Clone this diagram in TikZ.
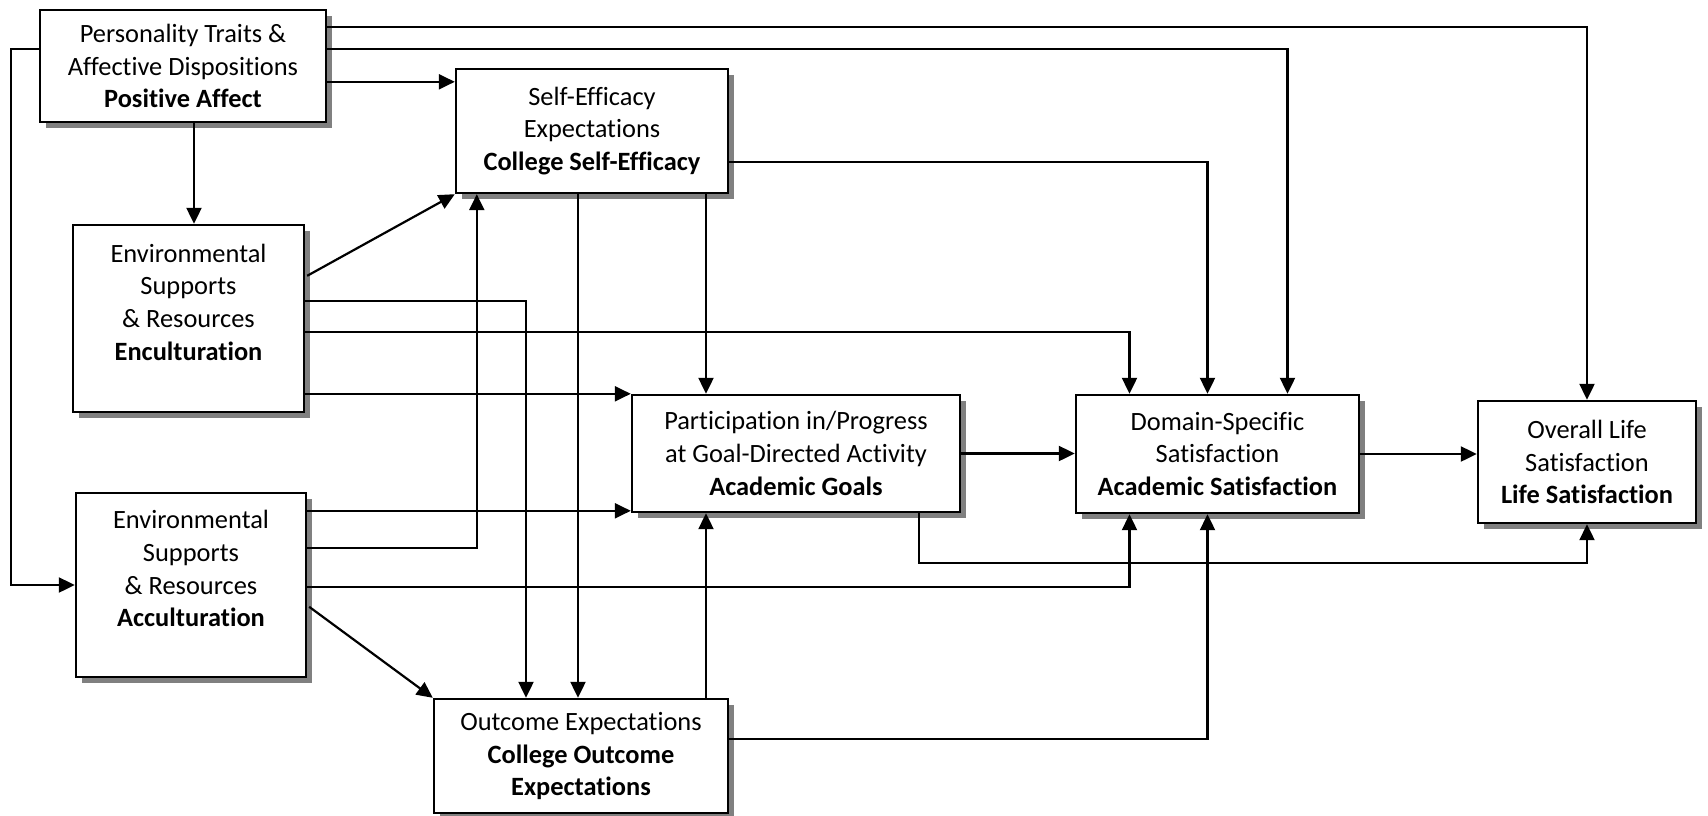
\documentclass[tikz,border=0pt]{standalone}
\usepackage{fontspec}
\setmainfont{Carlito}[Ligatures={NoCommon,NoRare},Contextuals=NoAlternate]
\usetikzlibrary{calc}
\usetikzlibrary{arrows.meta}
\usetikzlibrary{shadows}

\begin{document}
\begin{tikzpicture}[x=0.5pt,y=-0.5pt,
  box/.style={draw,line width=1.2pt,fill=white,align=center,inner sep=2pt,
    font=\fontsize{13.2}{16.4}\selectfont,
    drop shadow={shadow xshift=2.75pt,shadow yshift=-2.75pt,fill=black!50,opacity=1}},
  pot/.style={line width=1.1pt,-{Triangle[length=8pt,width=7.5pt]}}]
\useasboundingbox (0,0) rectangle (1708,815);
% boxes
\node[box,minimum width=143pt,minimum height=56pt] (pers) at (183,66)
  {Personality Traits \&\\Affective Dispositions\\\textbf{Positive Affect}};
\node[box,minimum width=136pt,minimum height=62pt] (selfeff) at (592,131)
  {Self-Efficacy\\Expectations\\\textbf{College Self-Efficacy}};
\node[box,minimum width=115.5pt,minimum height=93.5pt] (encult) at (188.5,318.5)
  {Environmental\\Supports\\\& Resources\\\textbf{Enculturation}\\\phantom{X}};
\node[box,minimum width=115pt,minimum height=92pt] (accult) at (191,585)
  {Environmental\\Supports\\\& Resources\\\textbf{Acculturation}\\\phantom{X}};
\node[box,minimum width=164pt,minimum height=58.5pt] (goals) at (796,453.5)
  {Participation in/Progress\\at Goal-Directed Activity\\\textbf{Academic Goals}};
\node[box,minimum width=141.5pt,minimum height=59pt] (domsat) at (1217.5,454)
  {Domain-Specific\\Satisfaction\\\textbf{Academic Satisfaction}};
\node[box,minimum width=109pt,minimum height=61pt] (lifesat) at (1587,462)
  {Overall Life\\Satisfaction\\\textbf{Life Satisfaction}};
\node[box,minimum width=147pt,minimum height=57pt] (outcome) at (581,756)
  {Outcome Expectations\\\textbf{College Outcome}\\\textbf{Expectations}};
% paths from personality
\draw[pot] ($(pers.north east)+(0,18)$) -| (lifesat.north);
\draw[pot] ($(pers.north east)+(0,40)$) -| ($(domsat.north)+(70,0)$);
\draw[pot] ($(pers.north east)+(0,73)$) coordinate (p1) -- (p1 -| selfeff.west);
\draw[pot] ($(pers.north west)+(0,40)$) -| ($(accult.west)+(-64,0)$) -- (accult.west);
\draw[pot] ($(pers.south)+(11,0)$) coordinate (p2) -- (p2 |- encult.north);
% enculturation
\draw[pot] ($(encult.north east)+(2,52)$) -- (selfeff.south west);
\draw[pot] ($(encult.north east)+(0,77)$) -| ($(outcome.north)+(-55,0)$);
\draw[pot] ($(encult.north east)+(0,108)$) -| ($(domsat.north)+(-88,0)$);
\draw[pot] ($(encult.north east)+(0,170)$) coordinate (p3) -- (p3 -| goals.west);
% acculturation
\draw[pot] ($(accult.north east)+(0,19)$) coordinate (p4) -- (p4 -| goals.west);
\draw[pot] ($(accult.north east)+(0,56)$) -| ($(selfeff.south west)+(22,0)$);
\draw[pot] ($(accult.north east)+(0,95)$) -| ($(domsat.south)+(-88,0)$);
\draw[pot] ($(accult.north east)+(2,115)$) -- (outcome.north west);
% self-efficacy and outcome
\draw[pot] ($(selfeff.south)+(-14,0)$) coordinate (p5) -- (p5 |- outcome.north);
\draw[pot] ($(selfeff.south)+(114,0)$) coordinate (p6) -- (p6 |- goals.north);
\draw[pot] ($(selfeff.north east)+(0,94)$) -| ($(domsat.north)+(-10,0)$);
\draw[pot] ($(outcome.north)+(125,0)$) coordinate (p7) -- (p7 |- goals.south);
\draw[pot] ($(outcome.north east)+(0,41)$) -| ($(domsat.south)+(-10,0)$);
% goals and satisfaction
\draw[pot] (goals.east) -- (goals.east -| domsat.west);
\draw[pot] (domsat.east) -- (domsat.east -| lifesat.west);
\draw[pot] ($(goals.south east)+(-42,0)$) |- ($(lifesat.south)+(0,39)$) -- (lifesat.south);
\end{tikzpicture}
\end{document}
